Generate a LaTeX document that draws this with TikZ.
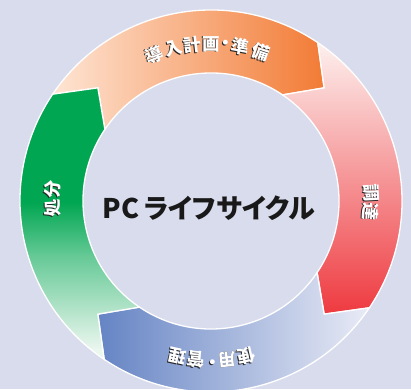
\documentclass[tikz,border=0pt]{standalone}
\usepackage{fontspec}
\newfontfamily\jpfont{Noto Sans CJK JP}
\newfontfamily\jpprop{Noto Sans CJK JP}[RawFeature=+palt]
\usetikzlibrary{calc}

\definecolor{bgcol}{HTML}{D9DCEC}
\definecolor{orangeD}{HTML}{F27B35}
\definecolor{orangeL}{HTML}{FEE5D4}
\definecolor{redD}{HTML}{EE3A40}
\definecolor{redL}{HTML}{FDF0EE}
\definecolor{blueD}{HTML}{6584C4}
\definecolor{blueL}{HTML}{E9EBF6}
\definecolor{greenD}{HTML}{00A651}
\definecolor{greenL}{HTML}{EAF6EE}
\pgfdeclareverticalshading{greenfade}{100bp}{color(0bp)=(greenL); color(27bp)=(greenL);
  color(44bp)=(greenD!60!white); color(54bp)=(greenD); color(100bp)=(greenD)}

\begin{document}
\begin{tikzpicture}[x=1pt,y=1pt,
    seg/.style={draw=white, line width=1.3pt, line join=miter},
    lbl/.style={font=\jpprop\bfseries\fontsize{17.5}{17.5}\selectfont, text=white, inner sep=0pt},
    lblshadow/.style={lbl, text=black!85},
    title/.style={font=\jpprop\bfseries\fontsize{27}{27}\selectfont, text=black!90, inner sep=0pt}]

	\fill[bgcol] (0,0) rectangle (411,389);
	\useasboundingbox (0,0) rectangle (411,389);
	\coordinate (c) at (211,188);

	\begin{scope}[shift={(c)}]
		% 導入計画・準備
		\shadedraw[seg, left color=orangeL, right color=orangeD]
			(146:191) arc[start angle=146, end angle=56, radius=191] -- (45:160)
			-- (56:128) arc[start angle=56, end angle=146, radius=128] -- (135:160) -- cycle;
		% 調達
		\shadedraw[seg, top color=redL, bottom color=redD]
			(56:191) arc[start angle=56, end angle=-34, radius=191] -- (-45:160)
			-- (-34:128) arc[start angle=-34, end angle=56, radius=128] -- (45:160) -- cycle;
		% 使用・管理
		\shadedraw[seg, right color=blueL, left color=blueD]
			(-34:191) arc[start angle=-34, end angle=-124, radius=191] -- (-135:160)
			-- (-124:128) arc[start angle=-124, end angle=-34, radius=128] -- (-45:160) -- cycle;
		% 処分
		\shadedraw[seg, shading=greenfade]
			(236:191) arc[start angle=236, end angle=146, radius=191] -- (135:160)
			-- (146:128) arc[start angle=146, end angle=236, radius=128] -- (225:160) -- cycle;

		\foreach \ch/\a [count=\i] in {導/111.2, 入/103.7, 計/96.7, 画/90.0, ・/84.8, 準/79.4, 備/71.4} {
			\node[lblshadow, rotate=\a-90] (plan\i s) at ([shift={(-0.8,-0.8)}]\a:157) {\ch};
			\node[lbl, rotate=\a-90] (plan\i) at (\a:157) {\ch};
		}
		\foreach \ch/\a [count=\i] in {調/2.9, 達/-3.7} {
			\node[lblshadow, rotate=\a-90] (buy\i s) at ([shift={(-0.8,-0.8)}]\a:160) {\ch};
			\node[lbl, rotate=\a-90] (buy\i) at (\a:160) {\ch};
		}
		\foreach \ch/\a [count=\i] in {使/-77.0, 用/-83.9, ・/-89.5, 管/-95.3, 理/-102.3} {
			\node[lblshadow, rotate=\a-90] (use\i s) at ([shift={(-0.8,-0.8)}]\a:159) {\ch};
			\node[lbl, rotate=\a-90] (use\i) at (\a:159) {\ch};
		}
		\foreach \ch/\a [count=\i] in {処/182.6, 分/175.9} {
			\node[lblshadow, rotate=\a-90] (disp\i s) at ([shift={(-0.8,-0.8)}]\a:159) {\ch};
			\node[lbl, rotate=\a-90] (disp\i) at (\a:159) {\ch};
		}
	\end{scope}

	\node[title] (cycle) at (209,181) {PC\,ライフサイクル};
\end{tikzpicture}
\end{document}
